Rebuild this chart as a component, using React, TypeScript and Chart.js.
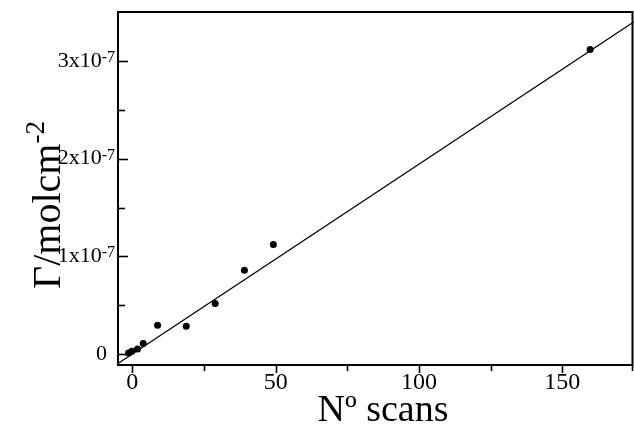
import React, { useEffect, useRef } from "react";
import { Chart, registerables } from "chart.js";

Chart.register(...registerables);

// Data
const scans = [-1.3, -0.2, 1.8, 3.8, 8.8, 18.8, 28.9, 39.1, 49.2, 159.7];
const gamma = [0.013e-7, 0.031e-7, 0.054e-7, 0.109e-7, 0.297e-7, 0.286e-7, 0.518e-7, 0.859e-7, 1.122e-7, 3.116e-7];
const fitX = [-5, 175];
const fitY = [-0.095e-7, 3.4e-7];

const xTicks = [0, 25, 50, 75, 100, 125, 150, 175];
const xLabels = ["0", "", "50", "", "100", "", "150", ""];
const yTicks = [0, 0.5e-7, 1e-7, 1.5e-7, 2e-7, 2.5e-7, 3e-7];
const yMantissa = ["0", "", "1x10", "", "2x10", "", "3x10"];
const yExponent = ["", "", "-7", "", "-7", "", "-7"];

const xTitle = "Nº scans";
const yTitleBase = "Γ/molcm";
const yTitleExp = "-2";

const FONT = "'Liberation Serif', 'Times New Roman', serif";

const framePlugin = {
  id: "frameAndLabels",
  afterDraw(chart: any) {
    const { ctx, chartArea: a, scales } = chart;
    const xs = scales.x;
    const ys = scales.y;
    ctx.save();
    ctx.strokeStyle = "#000";
    ctx.fillStyle = "#000";
    ctx.lineWidth = 2;
    ctx.strokeRect(a.left, a.top, a.right - a.left - 1.5, a.bottom - a.top);

    ctx.lineWidth = 1.6;
    yTicks.forEach((v, i) => {
      const py = Math.round(ys.getPixelForValue(v)) + 0.5;
      const len = yMantissa[i] ? 10 : 7;
      ctx.beginPath();
      ctx.moveTo(a.left, py);
      ctx.lineTo(a.left + len, py);
      ctx.stroke();
    });
    xTicks.forEach((v, i) => {
      const px = Math.min(Math.round(xs.getPixelForValue(v)) + 0.5, a.right - 1.5);
      const len = xLabels[i] ? 8 : 6;
      ctx.beginPath();
      ctx.moveTo(px, a.bottom);
      ctx.lineTo(px, a.bottom + len);
      ctx.stroke();
    });

    // y tick labels with superscript exponents
    yTicks.forEach((v, i) => {
      const m = yMantissa[i];
      if (!m) return;
      const py = ys.getPixelForValue(v);
      const e = yExponent[i];
      ctx.font = `22px ${FONT}`;
      ctx.textBaseline = "middle";
      ctx.textAlign = "left";
      if (!e) {
        const w = ctx.measureText(m).width;
        ctx.fillText(m, 107 - w, py);
        return;
      }
      ctx.font = `16px ${FONT}`;
      const we = ctx.measureText(e).width;
      ctx.font = `22px ${FONT}`;
      const wm = ctx.measureText(m).width;
      const right = 115;
      ctx.fillText(m, right - we - wm, py);
      ctx.font = `16px ${FONT}`;
      ctx.textBaseline = "alphabetic";
      ctx.fillText(e, right - we, py + 1);
    });

    // x title
    ctx.font = `38px ${FONT}`;
    ctx.textAlign = "center";
    ctx.textBaseline = "alphabetic";
    ctx.fillText(xTitle, 383, 421);

    // y title rotated with superscript
    ctx.save();
    ctx.translate(60, 205);
    ctx.rotate(-Math.PI / 2);
    ctx.font = `40px ${FONT}`;
    const wb = ctx.measureText(yTitleBase).width;
    ctx.font = `27px ${FONT}`;
    const wx = ctx.measureText(yTitleExp).width;
    const start = -(wb + wx) / 2;
    ctx.textAlign = "left";
    ctx.font = `40px ${FONT}`;
    ctx.fillText(yTitleBase, start, 0);
    ctx.font = `27px ${FONT}`;
    ctx.fillText(yTitleExp, start + wb, -16);
    ctx.restore();

    ctx.restore();
  },
};

export default function App() {
  const ref = useRef<HTMLCanvasElement | null>(null);
  useEffect(() => {
    if (!ref.current) return;
    const chart = new Chart(ref.current, {
      type: "scatter",
      data: {
        datasets: [
          {
            label: "fit",
            data: fitX.map((x, i) => ({ x, y: fitY[i] })),
            showLine: true,
            borderColor: "#000",
            borderWidth: 1.3,
            pointRadius: 0,
            fill: false,
          },
          {
            label: "data",
            data: scans.map((x, i) => ({ x, y: gamma[i] })),
            backgroundColor: "#000",
            borderColor: "#000",
            pointRadius: 3.5,
            borderWidth: 0,
          },
        ],
      },
      options: {
        responsive: false,
        animation: false,
        layout: { autoPadding: false, padding: { top: 12, right: 0, left: 0, bottom: 0 } },
        plugins: { legend: { display: false }, tooltip: { enabled: false } },
        scales: {
          x: {
            type: "linear",
            min: -5,
            max: 175,
            grid: { display: false, drawTicks: false },
            border: { display: false },
            afterBuildTicks: (s: any) => {
              s.ticks = xTicks.map((v) => ({ value: v }));
            },
            afterFit: (s: any) => {
              s.height = 64;
              s.paddingLeft = 0;
              s.paddingRight = 0;
            },
            ticks: {
              autoSkip: false,
              maxRotation: 0,
              padding: 3,
              color: "#000",
              font: { family: FONT, size: 24 },
              callback: (_v: any, i: number) => xLabels[i],
            },
          },
          y: {
            type: "linear",
            min: -0.11e-7,
            max: 3.5e-7,
            grid: { display: false, drawTicks: false },
            border: { display: false },
            afterBuildTicks: (s: any) => {
              s.ticks = yTicks.map((v) => ({ value: v }));
            },
            afterFit: (s: any) => {
              s.width = 118;
            },
            ticks: { display: false },
          },
        },
      },
      plugins: [framePlugin],
    });
    return () => chart.destroy();
  }, []);
  return (
    <div style={{ position: "fixed", left: 0, top: 0, width: 634, height: 429, background: "#fff" }}>
      <canvas ref={ref} width={634} height={429} />
    </div>
  );
}
